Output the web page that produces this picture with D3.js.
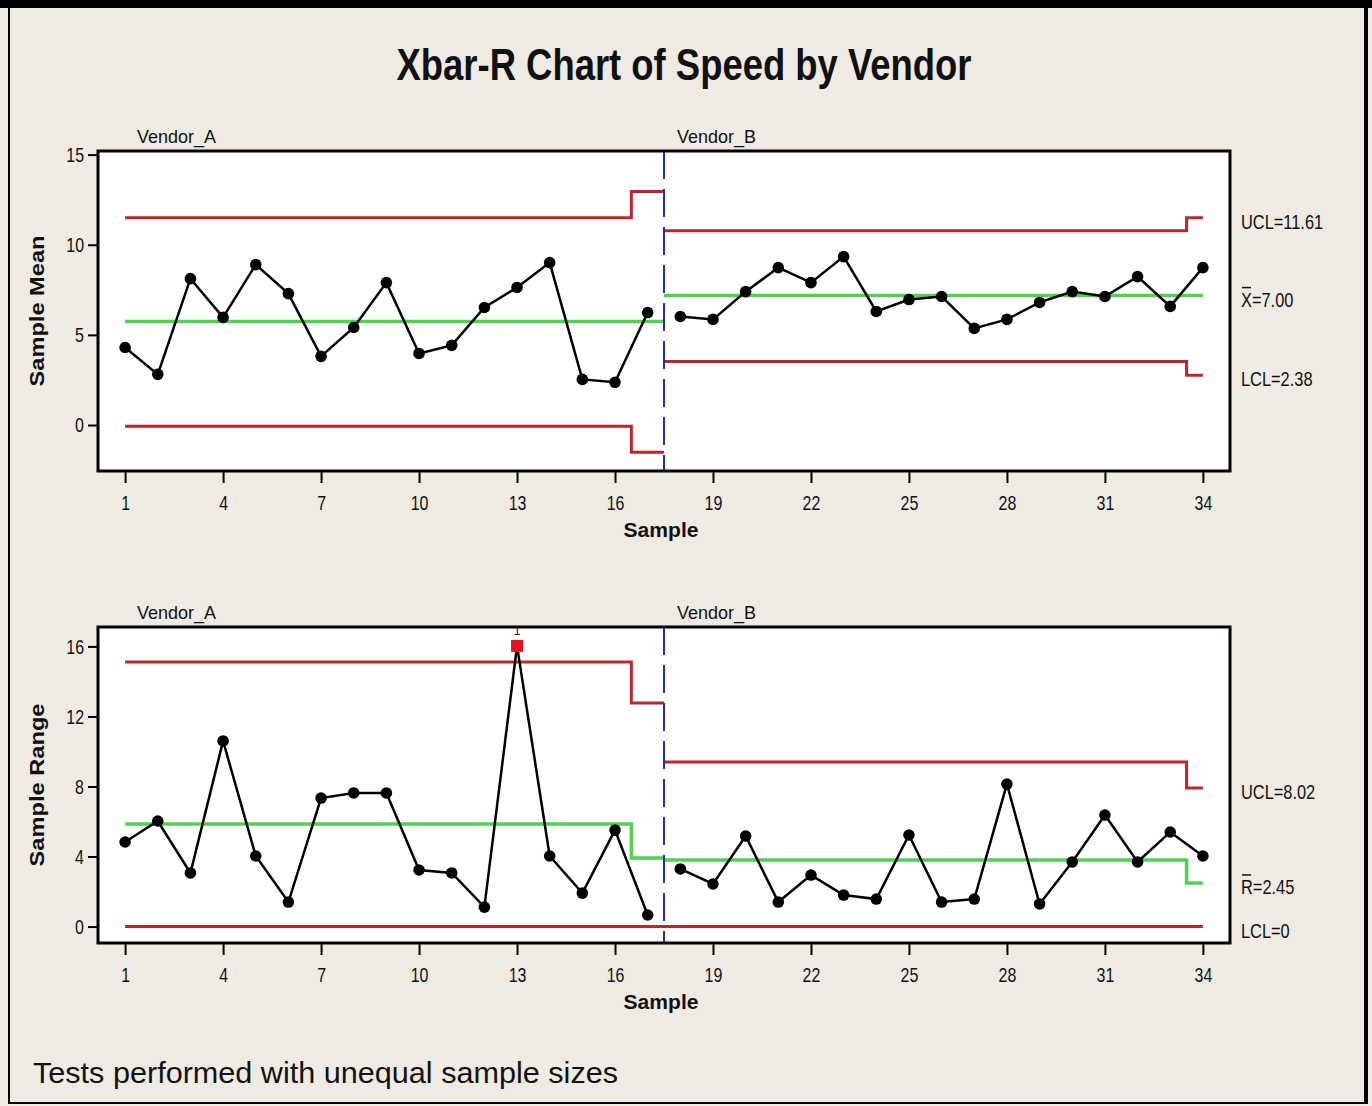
<!DOCTYPE html>
<html>
<head>
<meta charset="utf-8">
<script src="https://cdn.jsdelivr.net/npm/d3@7"></script>
<style>
  body { margin: 0; background: #efebe2; }
  svg { display: block; }
  text { font-family: "Liberation Sans", Arial, sans-serif; fill: #111; }
</style>
</head>
<body>
<svg id="chart" width="1372" height="1106"></svg>
<script>
// ---- data ----
const samples = d3.range(1, 35);
const stageNames = ["Vendor_A", "Vendor_B"];
const stageBreak = 17.5;           // vendor A = samples 1..17, vendor B = 18..34

const xbarValues = [4.30, 2.81, 8.12, 5.97, 8.90, 7.29, 3.81, 5.41, 7.90, 3.97, 4.42, 6.52, 7.63, 9.01, 2.53, 2.37, 6.24,
                    6.02, 5.86, 7.40, 8.73, 7.90, 9.34, 6.30, 6.96, 7.13, 5.36, 5.86, 6.80, 7.40, 7.13, 8.23, 6.58, 8.73];
const rangeValues = [4.83, 6.03, 3.06, 10.6, 4.03, 1.40, 7.34, 7.63, 7.63, 3.23, 3.06, 1.11, 16.03, 4.03, 1.91, 5.51, 0.66,
                     3.29, 2.43, 5.17, 1.40, 2.94, 1.80, 1.57, 5.23, 1.40, 1.57, 8.14, 1.29, 3.69, 6.37, 3.69, 5.40, 4.03];

// control limit steps: [stage, from sample, to sample, value]
const xbarUcl = [[0, 1, 16.5, 11.50], [0, 16.5, 17.5, 12.95], [1, 17.5, 33.5, 10.78], [1, 33.5, 34, 11.50]];
const xbarCl  = [[0, 1, 17.5, 5.74], [1, 17.5, 34, 7.18]];
const xbarLcl = [[0, 1, 16.5, -0.07], [0, 16.5, 17.5, -1.51], [1, 17.5, 33.5, 3.53], [1, 33.5, 34, 2.76]];
const rUcl = [[0, 1, 16.5, 15.11], [0, 16.5, 17.5, 12.77], [1, 17.5, 33.5, 9.40], [1, 33.5, 34, 7.91]];
const rCl  = [[0, 1, 16.5, 5.86], [0, 16.5, 17.5, 3.91], [1, 17.5, 33.5, 3.80], [1, 33.5, 34, 2.49]];
const rLcl = [[0, 1, 17.5, 0], [1, 17.5, 34, 0]];

// right-hand labels: [text, first letter carries a bar, value of the line it sits by]
const xbarLabels = [["UCL=11.61", false, 11.50], ["X=7.00", true, 7.18], ["LCL=2.38", false, 2.76]];
const rLabels = [["UCL=8.02", false, 7.91], ["R=2.45", true, 2.49], ["LCL=0", false, 0]];

const xTicks = [1, 4, 7, 10, 13, 16, 19, 22, 25, 28, 31, 34];
const xbarTicks = [0, 5, 10, 15];
const rTicks = [0, 4, 8, 12, 16];
const rFlagged = [13];   // failed test 1

// ---- drawing ----
const svg = d3.select("#chart");
const RED = "#bd262c", GREEN = "#52d052", BLUE = "#2a2ab0";

function squeeze(sel, k) {
  sel.each(function () {
    const len = this.getComputedTextLength();
    d3.select(this).attr("textLength", len * k).attr("lengthAdjust", "spacingAndGlyphs");
  });
}

// frame of the whole picture
svg.append("rect").attr("x", 9).attr("y", 0).attr("width", 1357).attr("height", 1103)
  .attr("fill", "#efebe2").attr("stroke", "#000").attr("stroke-width", 2);
svg.append("rect").attr("x", 0).attr("y", 0).attr("width", 1372).attr("height", 8).attr("fill", "#000");
svg.append("rect").attr("x", 1364).attr("y", 0).attr("width", 4).attr("height", 1104).attr("fill", "#000");

svg.append("text").attr("x", 684).attr("y", 80).attr("text-anchor", "middle")
  .attr("font-size", 44).attr("font-weight", "bold")
  .attr("textLength", 575).attr("lengthAdjust", "spacingAndGlyphs")
  .text("Xbar-R Chart of Speed by Vendor");

svg.append("text").attr("x", 33).attr("y", 1083).attr("font-size", 30)
  .attr("textLength", 585).attr("lengthAdjust", "spacingAndGlyphs")
  .text("Tests performed with unequal sample sizes");

const x = d3.scaleLinear().domain([0.17, 34.83]).range([98, 1230]);

function drawPanel(cfg) {
  const y = d3.scaleLinear().domain(cfg.domain).range([cfg.bottom, cfg.top]);
  const g = svg.append("g");

  g.append("rect").attr("x", x.range()[0]).attr("y", cfg.top)
    .attr("width", x.range()[1] - x.range()[0]).attr("height", cfg.bottom - cfg.top)
    .attr("fill", "#fff");

  // vendor labels
  g.selectAll(".stage").data(stageNames).enter().append("text")
    .attr("x", (d, i) => i === 0 ? 137 : x(stageBreak) + 13)
    .attr("y", cfg.top - 8).attr("font-size", 19)
    .attr("textLength", 79).attr("lengthAdjust", "spacingAndGlyphs")
    .text(d => d);

  // control limits as steps, one path per stage
  const line = d3.line().x(d => x(d[0])).y(d => y(d[1]));
  function steps(list, color, width) {
    [0, 1].forEach(st => {
      const pts = [];
      list.filter(s => s[0] === st).forEach(s => { pts.push([s[1], s[3]]); pts.push([s[2], s[3]]); });
      g.append("path").attr("d", line(pts)).attr("fill", "none")
        .attr("stroke", color).attr("stroke-width", width);
    });
  }
  steps(cfg.cl, GREEN, 3.5);
  steps(cfg.ucl, RED, 3);
  steps(cfg.lcl, RED, 3);

  // divider between vendors
  g.append("line").attr("x1", x(stageBreak)).attr("x2", x(stageBreak))
    .attr("y1", cfg.top).attr("y2", cfg.bottom)
    .attr("stroke", BLUE).attr("stroke-width", 2).attr("stroke-dasharray", "28,10");

  // data line, broken at the vendor change
  const pts = samples.map((s, i) => [s, cfg.values[i]]);
  [pts.filter(p => p[0] < stageBreak), pts.filter(p => p[0] > stageBreak)].forEach(part => {
    g.append("path").attr("d", line(part)).attr("fill", "none")
      .attr("stroke", "#000").attr("stroke-width", 2.5);
  });
  g.selectAll(".pt").data(pts.filter(p => !cfg.flagged.includes(p[0]))).enter().append("circle")
    .attr("cx", d => x(d[0])).attr("cy", d => y(d[1])).attr("r", 5.8).attr("fill", "#000");
  const bad = pts.filter(p => cfg.flagged.includes(p[0]));
  g.selectAll(".bad").data(bad).enter().append("rect")
    .attr("x", d => x(d[0]) - 6).attr("y", d => y(d[1]) - 6).attr("width", 12).attr("height", 12)
    .attr("fill", "#e0141a");
  g.selectAll(".badlab").data(bad).enter().append("text")
    .attr("x", d => x(d[0])).attr("y", cfg.top + 8).attr("text-anchor", "middle")
    .attr("font-size", 12).text("1");

  // frame
  g.append("rect").attr("x", x.range()[0]).attr("y", cfg.top)
    .attr("width", x.range()[1] - x.range()[0]).attr("height", cfg.bottom - cfg.top)
    .attr("fill", "none").attr("stroke", "#000").attr("stroke-width", 3);

  // axes
  const ax = g.append("g").attr("transform", `translate(0,${cfg.bottom})`)
    .call(d3.axisBottom(x).tickValues(xTicks).tickSize(12).tickPadding(12));
  const ay = g.append("g").attr("transform", `translate(${x.range()[0]},0)`)
    .call(d3.axisLeft(y).tickValues(cfg.ticks).tickSize(10).tickPadding(4));
  [ax, ay].forEach(a => {
    a.select(".domain").remove();
    a.selectAll(".tick line").attr("stroke", "#000").attr("stroke-width", 2);
    a.selectAll(".tick text").attr("font-size", 21).attr("font-family", null).attr("fill", "#111");
    squeeze(a.selectAll(".tick text"), 0.76);
  });

  g.append("text").attr("x", 661).attr("y", cfg.bottom + 66).attr("text-anchor", "middle")
    .attr("font-size", 20).attr("font-weight", "bold")
    .attr("textLength", 75).attr("lengthAdjust", "spacingAndGlyphs").text("Sample");
  g.append("text").attr("transform", `translate(44,${(cfg.top + cfg.bottom) / 2}) rotate(-90)`)
    .attr("text-anchor", "middle").attr("font-size", 20).attr("font-weight", "bold").attr("fill", "#222")
    .attr("textLength", cfg.yLabelLen).attr("lengthAdjust", "spacingAndGlyphs").text(cfg.yLabel);

  // right-hand limit labels
  cfg.labels.forEach(([txt, barred, v]) => {
    const ty = y(v) + 11;
    const t = g.append("text").attr("x", 1241).attr("y", ty).attr("font-size", 21).text(txt);
    squeeze(t, 0.78);
    if (barred) {
      g.append("line").attr("x1", 1242).attr("x2", 1251).attr("y1", ty - 19).attr("y2", ty - 19)
        .attr("stroke", "#111").attr("stroke-width", 1.5);
    }
  });
}

drawPanel({
  top: 151, bottom: 471, domain: [-2.55, 15.2], ticks: xbarTicks,
  values: xbarValues, ucl: xbarUcl, cl: xbarCl, lcl: xbarLcl, flagged: [],
  labels: xbarLabels, yLabel: "Sample Mean", yLabelLen: 151
});
drawPanel({
  top: 627, bottom: 943, domain: [-0.94, 17.11], ticks: rTicks,
  values: rangeValues, ucl: rUcl, cl: rCl, lcl: rLcl, flagged: rFlagged,
  labels: rLabels, yLabel: "Sample Range", yLabelLen: 163
});
</script>
</body>
</html>
